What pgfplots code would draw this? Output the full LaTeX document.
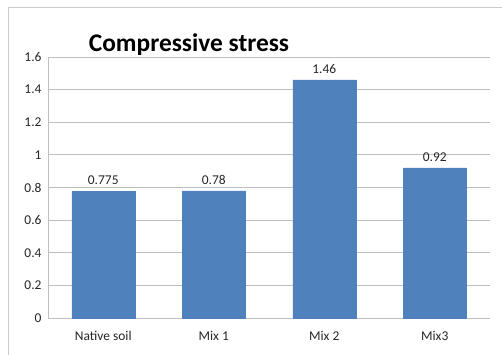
\documentclass[border=0pt]{standalone}
\usepackage{pgfplots}
\pgfplotsset{compat=1.18}
\usepackage{fontspec}
\setmainfont{Carlito}
\definecolor{barblue}{HTML}{4F81BD}
\definecolor{gridgray}{HTML}{BEBEBE}
\begin{document}
\begin{tikzpicture}[x=1bp,y=1bp]
\path[use as bounding box] (0,0) rectangle (502,354);
\draw[gridgray!80, line width=1bp] (8,-2) rectangle (506,346);
\begin{axis}[
  at={(48bp,36bp)}, anchor=south west,
  scale only axis,
  width=442bp, height=261bp,
  ymin=0, ymax=1.6,
  ytick={0,0.2,...,1.6},
  yticklabels={0,0.2,0.4,0.6,0.8,1,1.2,1.4,1.6},
  xmin=-0.5, xmax=3.5,
  xtick=data,
  xticklabels={Native soil,Mix 1,Mix 2,Mix3},
  ybar, bar width=63bp,
  ymajorgrids, grid style={gridgray, line width=0.9bp},
  axis line style={gridgray, line width=0.9bp},
  axis x line*=bottom, axis y line*=left,
  tick style={draw=none},
  tick label style={font=\fontsize{13.5}{15}\selectfont, text=black!85},
  xticklabel style={yshift=-5bp},
  yticklabel style={xshift=-3bp},
  /pgf/number format/assume math mode=true,
  nodes near coords,
  point meta=explicit symbolic,
  every node near coord/.style={font=\fontsize{13.5}{15}\selectfont, text=black!85, yshift=3bp},
  clip=false,
]
\addplot[fill=barblue, draw=barblue] coordinates {
(0,0.775) [0.775]
(1,0.78) [0.78]
(2,1.46) [1.46]
(3,0.92) [0.92]
};
\end{axis}
\node[font=\bfseries\fontsize{25.5}{28}\selectfont, anchor=base] at (189bp,302bp) {Compressive stress};
\end{tikzpicture}
\end{document}
